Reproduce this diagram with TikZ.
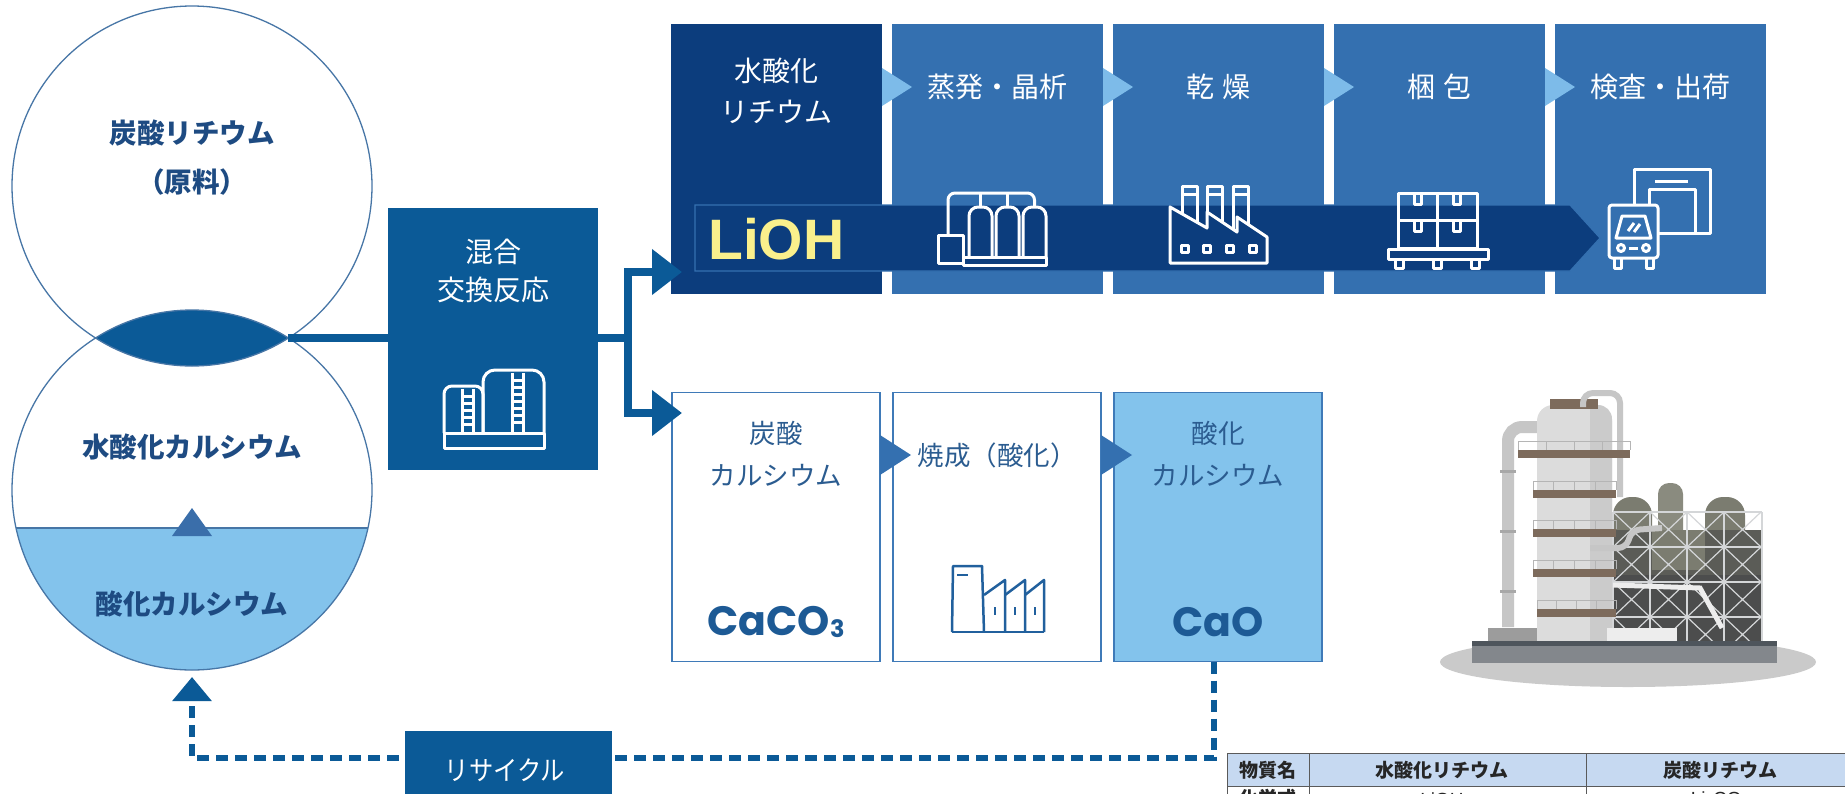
\documentclass[tikz,border=0pt]{standalone}
\usepackage{fontspec}
\newfontfamily\jp{Noto Sans CJK JP}
\newfontfamily\jpn{Noto Sans CJK JP}[FakeStretch=0.9]
\newfontfamily\arl{Liberation Sans}
\newfontfamily\geo{Poppins}
\usetikzlibrary{arrows.meta,calc}

\definecolor{cNavy}{HTML}{0C3D7D}
\definecolor{cMid}{HTML}{3470B0}
\definecolor{cChev}{HTML}{7DBBE9}
\definecolor{cFlow}{HTML}{0B5A97}
\definecolor{cFrame}{HTML}{3F7AB8}
\definecolor{cPale}{HTML}{83C3EC}
\definecolor{cText}{HTML}{2B5C90}
\definecolor{cCirc}{HTML}{1E4B82}
\definecolor{cRing}{HTML}{4776A6}
\definecolor{cTri}{HTML}{3A6EAA}
\definecolor{cFormula}{HTML}{1D5A95}
\definecolor{cYellow}{HTML}{FAF08C}
\definecolor{cIcon}{HTML}{21609D}
\definecolor{cHead}{HTML}{C6D9F1}
\definecolor{cRule}{HTML}{5A5A5A}
% plant colours
\definecolor{pGround}{HTML}{CACACA}
\definecolor{pBase}{HTML}{83878C}
\definecolor{pBaseTop}{HTML}{4E555C}
\definecolor{pStep}{HTML}{9C9C9C}
\definecolor{pTower}{HTML}{DCDCDC}
\definecolor{pTowerSh}{HTML}{CBCBCB}
\definecolor{pDeck}{HTML}{7D6B5C}
\definecolor{pRail}{HTML}{B5B5B5}
\definecolor{pPipe}{HTML}{C6C6C6}
\definecolor{pFlange}{HTML}{A8A8A8}
\definecolor{pTank}{HTML}{7B7C70}
\definecolor{pTankLt}{HTML}{8A8B7F}
\definecolor{pTankDk}{HTML}{5B5C57}
\definecolor{pDark}{HTML}{4C4D4D}
\definecolor{pFrame}{HTML}{D4D6D8}
\definecolor{pWhite}{HTML}{EDEDED}

\begin{document}
\begin{tikzpicture}[x=1pt,y=-1pt,
  topbox/.style={rectangle, minimum width=211pt, minimum height=270pt, inner sep=0pt, outer sep=0pt},
  botbox/.style={rectangle, draw=cFrame, line width=1.5pt, minimum width=208pt, minimum height=269pt, inner sep=0pt, outer sep=0pt},
  wlabel/.style={text=white, font=\jp\fontsize{28}{32}\selectfont, inner sep=0pt},
  blabel/.style={text=cText, font=\jp\fontsize{26.5}{30}\selectfont, inner sep=0pt},
  clabel/.style={text=cCirc, font=\jp\bfseries\fontsize{27.5}{30}\selectfont, inner sep=0pt},
  formula/.style={text=cFormula, font=\geo\bfseries\fontsize{41}{44}\selectfont, inner sep=0pt},
  conn/.style={draw=cFlow, line width=8pt},
  recyc/.style={draw=cFlow, line width=6pt, dash pattern=on 12pt off 7pt},
  wicon/.style={white, line width=3pt, line join=round},
  bicon/.style={cIcon, line width=2.5pt, line join=round},
  tabcell/.style={rectangle, draw=cRule, line width=1.2pt, inner sep=0pt, anchor=north west},
  tabtext/.style={text=black!85, font=\jp\bfseries\fontsize{19}{20}\selectfont, inner sep=0pt},
]
\useasboundingbox (0,0) rectangle (1845,793);
\clip (0,0) rectangle (1845,793);
\fill[white] (0,0) rectangle (1845,793);

% ---------- raw-material circles ----------
\coordinate (cA) at (192,186);
\coordinate (cB) at (192,490);
\begin{scope}
  \clip (cB) circle (180pt);
  \fill[cPale] (0,528) rectangle (400,700);
  \draw[cRing, line width=1.2pt] (0,528) -- (400,528);
\end{scope}
\begin{scope}
  \clip (cA) circle (180pt);
  \fill[cFlow] (cB) circle (180pt);
\end{scope}
\draw[cRing, line width=1.3pt] (cA) circle (180pt) (cB) circle (180pt);
\fill[cTri] (172,536) -- (192,508) -- (212,536) -- cycle;
\coordinate (lensR) at (288.4,338);
\coordinate (retIn) at (192,677);

\node[clabel] (cl1) at (192,133) {炭酸リチウム};
\node[clabel] (cl2) at (192,182) {（原料）};
\node[clabel] (cl3) at (192,447) {水酸化カルシウム};
\node[clabel] (cl4) at (192,604) {酸化カルシウム};

% ---------- mixing / exchange reaction ----------
\node[fill=cFlow, minimum width=210pt, minimum height=262pt, inner sep=0pt, outer sep=0pt] (mix) at (493,339) {};
\node[wlabel] (mixA) at (493,252) {混合};
\node[wlabel] (mixB) at (493,290) {交換反応};
\begin{scope}[wicon]
  \draw (444,433) rectangle (544,448);
  \draw[rounded corners=8pt] (444,433) -- (444,386) -- (483,386) -- (483,433);
  \draw[rounded corners=12pt] (483,433) -- (483,370) -- (544,370) -- (544,433);
  \draw (462,389) -- (462,433) (473,389) -- (473,433);
  \foreach \y in {396,403,...,426} \draw (462,\y) -- (473,\y);
  \draw (512,373) -- (512,433) (523,373) -- (523,433);
  \foreach \y in {380,387,...,426} \draw (512,\y) -- (523,\y);
\end{scope}

% ---------- lithium hydroxide line ----------
\node[topbox, fill=cNavy] (t1) at (776.5,159) {};
\node[topbox, fill=cMid] (t2) at (997.5,159) {};
\node[topbox, fill=cMid] (t3) at (1218.5,159) {};
\node[topbox, fill=cMid] (t4) at (1439.5,159) {};
\node[topbox, fill=cMid] (t5) at (1660.5,159) {};
\foreach \a in {t1,t2,t3,t4}
  \fill[cChev] (\a.east |- 0,68) -- ++(30,19) -- ++(-30,19) -- cycle;

\fill[cNavy, draw=cMid, line width=1.2pt] (695,205) -- (1570,205) -- (1600,238) -- (1570,271) -- (695,271) -- cycle;
\node[text=cYellow, font=\arl\bfseries\fontsize{57}{60}\selectfont, anchor=west, inner sep=0pt] (lioh) at (708,239) {LiOH};

\node[wlabel] (t1a) at (t1 |- 0,71) {水酸化};
\node[wlabel] (t1b) at (t1 |- 0,112) {リチウム};
\node[wlabel] (t2a) at (t2 |- 0,87) {蒸発・晶析};
\node[wlabel] (t3a) at (t3 |- 0,87) {乾\hspace{8pt}燥};
\node[wlabel] (t4a) at (t4 |- 0,87) {梱\hspace{8pt}包};
\node[wlabel] (t5a) at (t5 |- 0,87) {検査・出荷};

% evaporation / crystallisation icon
\begin{scope}[wicon]
  \draw (938,235) rectangle (963,263);
  \draw (963,257) rectangle (1046,265);
  \foreach \xa/\xb in {969/992, 996/1019, 1023/1046}
    \draw[rounded corners=9pt] (\xa,257) -- (\xa,207) -- (\xb,207) -- (\xb,257);
  \draw[rounded corners=7pt] (948,235) -- (948,193) -- (1034.5,193) -- (1034.5,207);
  \draw (980.5,193) -- (980.5,207) (1007.5,193) -- (1007.5,207);
\end{scope}

% drying icon (factory)
\begin{scope}[wicon]
  \foreach \xa/\xb in {1182/1197, 1207/1222, 1233/1248}
    {\draw (\xa,236) -- (\xa,186) -- (\xb,186) -- (\xb,236); \draw (\xa,194) -- (\xb,194);}
  \filldraw[fill=cNavy] (1170,263) -- (1170,207) -- (1207,228) -- (1207,212) -- (1237,232) -- (1237,217) -- (1267,237) -- (1267,263) -- cycle;
  \foreach \x in {1185,1207,1230,1253} \draw (\x-3.5,245) rectangle (\x+3.5,252);
\end{scope}

% packing icon (pallet)
\begin{scope}[wicon]
  \draw (1398,193) rectangle (1477,248);
  \draw (1437.5,193) -- (1437.5,248) (1398,220.5) -- (1477,220.5);
  \foreach \x in {1418,1457} \foreach \y in {193,220.5}
    \draw (\x-3.5,\y) -- (\x-3.5,\y+11) -- (\x+3.5,\y+11) -- (\x+3.5,\y);
  \draw (1388,249) rectangle (1488,259);
  \foreach \x in {1399,1437.5,1475}
    \draw (\x-4,259) -- (\x-4,268) -- (\x+4,268) -- (\x+4,259);
\end{scope}

% inspection / shipping icon (truck and warehouse)
\begin{scope}[wicon]
  \draw (1634,169) rectangle (1710,233);
  \draw (1649,233) -- (1649,189) -- (1695,189) -- (1695,233);
  \draw (1655,181) -- (1688,181);
  \filldraw[fill=cMid, rounded corners=3pt] (1609,258) -- (1609,205) -- (1658,205) -- (1658,258) -- cycle;
  \draw (1616,238) -- (1622,216) -- (1645,216) -- (1651,238) -- cycle;
  \draw (1628,231) -- (1634,223) (1634,232) -- (1640,224);
  \draw (1621,248) circle (3.5pt) (1646,248) circle (3.5pt);
  \draw (1629,248) -- (1638,248);
  \draw (1614,258) -- (1614,268) -- (1621,268) -- (1621,258);
  \draw (1646,258) -- (1646,268) -- (1653,268) -- (1653,258);
\end{scope}

% ---------- calcium carbonate line ----------
\node[botbox, fill=white] (b1) at (776,527) {};
\node[botbox, fill=white] (b2) at (997,527) {};
\node[botbox, fill=cPale] (b3) at (1218,527) {};
\foreach \a in {b1,b2}
  \fill[cMid] (\a.east |- 0,435) -- ++(31,20) -- ++(-31,20) -- cycle;

\node[blabel] (b1a) at (b1 |- 0,433) {炭酸};
\node[blabel] (b1b) at (b1 |- 0,475) {カルシウム};
\node[formula] (b1f) at (b1 |- 0,622) {CaCO{\fontsize{24}{24}\selectfont\raisebox{-2pt}{3}}};
\node[blabel] (b2a) at (b2 |- 0,455) {焼成（酸化）};
\node[blabel] (b3a) at (b3 |- 0,433) {酸化};
\node[blabel] (b3b) at (b3 |- 0,475) {カルシウム};
\node[formula] (b3f) at (b3 |- 0,622) {CaO};

% calcination icon
\begin{scope}[bicon]
  \draw (952,632) -- (953,566) -- (982,566) -- (984,632);
  \draw (957,575) -- (968,575);
  \draw (984,595) -- (1005,580) -- (1005,632);
  \draw (1005,595) -- (1025,580) -- (1025,632);
  \draw (1025,595) -- (1044,580) -- (1044,632);
  \draw (952,632) -- (1044,632);
  \foreach \x in {995,1015,1035} \draw (\x,607) -- (\x,615);
\end{scope}

% ---------- flow connectors ----------
\coordinate (split) at (628,338);
\coordinate (inTop) at (682,272);
\coordinate (inBot) at (682,413);
\draw[conn] (lensR) -- (mix.west |- lensR);
\draw[conn] (mix.east |- split) -- (split);
\draw[conn, -{Triangle[length=30pt,width=44pt]}] (split) |- (inTop);
\draw[conn, -{Triangle[length=30pt,width=44pt]}] (split) |- (inBot);

% ---------- recycle loop ----------
\coordinate (rTop) at ($(b3.south)+(-4,0)$);
\draw[recyc, -{Triangle[length=24pt,width=38pt]}] (rTop) -- (rTop |- 0,758) -| (retIn);
\node[fill=cFlow, minimum width=207pt, minimum height=80pt, inner sep=0pt, anchor=north] (recy) at (508.5,731) {};
\node[text=white, font=\jpn\fontsize{27}{30}\selectfont, inner sep=0pt] (recyT) at (505,770) {リサイクル};

% ---------- plant illustration ----------
\fill[pGround] (1628,662) ellipse [x radius=188pt, y radius=25pt];
% right structure: tanks
\fill[pTank, rounded corners=18pt] (1613,642) -- (1613,497) -- (1652,497) -- (1652,642) -- cycle;
\fill[pTankLt, rounded corners=11pt] (1658,642) -- (1658,483) -- (1683,483) -- (1683,642) -- cycle;
\fill[pTank, rounded corners=18pt] (1705,642) -- (1705,497) -- (1745,497) -- (1745,642) -- cycle;
\fill[pTankDk] (1613,530) rectangle (1762,642);
\fill[pTank] (1652,530) rectangle (1705,570);
\fill[pDark] (1613,575) rectangle (1762,642);
% scaffold
\begin{scope}[pFrame]
  \foreach \y in {512,547,582,617} \draw[line width=2pt] (1613,\y) -- (1762,\y);
  \foreach \x in {1613,1650,1687,1724,1762} \draw[line width=2pt] (\x,512) -- (\x,642);
  \foreach \x in {1613,1650,1687,1724} \foreach \y in {512,547,582,617}
    {\draw[line width=1.2pt] (\x,\y) -- (\x+37,\y+35) (\x+37,\y) -- (\x,\y+35);}
\end{scope}
\draw[pWhite, line width=5pt] (1613,585) -- (1700,588) -- (1722,628);
% left pipe
\draw[pPipe, line width=12pt, rounded corners=14pt] (1508,627) -- (1508,427) -- (1540,427);
\foreach \y in {470,530,590} \fill[pFlange] (1500,\y) rectangle (1516,\y+3);
% tower
\fill[pTower] (1537,642) -- (1537,420) [rounded corners=16pt] -- (1537,405) -- (1612,405) [sharp corners] -- (1612,642) -- cycle;
\fill[pTowerSh] (1590,642) -- (1590,405) [rounded corners=14pt] -- (1612,405) [sharp corners] -- (1612,642) -- cycle;
\fill[pDeck] (1550,399) rectangle (1598,409);
% right pipe
\draw[pPipe, line width=6pt, rounded corners=10pt] (1620,497) -- (1620,393) -- (1583,393) -- (1583,407);
% side pipe to structure
\draw[pPipe, line width=6pt, rounded corners=8pt] (1590,548) -- (1626,548) -- (1632,530) -- (1662,528);
% decks with railings
\foreach \xa/\xb/\y in {1518/1630/450, 1533/1616/490, 1533/1616/529, 1533/1616/569, 1537/1616/609} {
  \fill[pDeck] (\xa,\y) rectangle (\xb,\y+8);
  \draw[pRail, line width=1pt] (\xa,\y-9) -- (\xb,\y-9);
  \foreach \k in {0,0.25,0.5,0.75,1} \draw[pRail, line width=1pt] ({\xa+\k*(\xb-\xa)},\y-9) -- ({\xa+\k*(\xb-\xa)},\y);
}
% ground blocks and base
\fill[pStep] (1488,628) rectangle (1537,642);
\fill[pWhite] (1607,628) rectangle (1677,642);
\fill[pBaseTop] (1472,641) rectangle (1777,646);
\fill[pBase] (1472,646) rectangle (1777,663);

% ---------- property table ----------
\node[tabcell, fill=cHead, minimum width=82pt, minimum height=33pt] (h1) at (1227,753) {};
\node[tabcell, fill=cHead, minimum width=277pt, minimum height=33pt] (h2) at (1309,753) {};
\node[tabcell, fill=cHead, minimum width=290pt, minimum height=33pt] (h3) at (1586,753) {};
\node[tabcell, fill=white, minimum width=82pt, minimum height=34pt] (r1) at (1227,786) {};
\node[tabcell, fill=white, minimum width=277pt, minimum height=34pt] (r2) at (1309,786) {};
\node[tabcell, fill=white, minimum width=290pt, minimum height=34pt] (r3) at (1586,786) {};
\node[tabtext] (h1t) at (1268,770) {物質名};
\node[tabtext] (h2t) at (1442,770) {水酸化リチウム};
\node[tabtext] (h3t) at (1720,770) {炭酸リチウム};
\node[tabtext] (r1t) at (1268,798) {化学式};
\node[tabtext, font=\arl\fontsize{19}{20}\selectfont] (r2t) at (1442,800) {LiOH};
\node[tabtext, font=\arl\fontsize{19}{20}\selectfont] (r3t) at (1720,800) {Li$_2$CO$_3$};
\end{tikzpicture}
\end{document}
